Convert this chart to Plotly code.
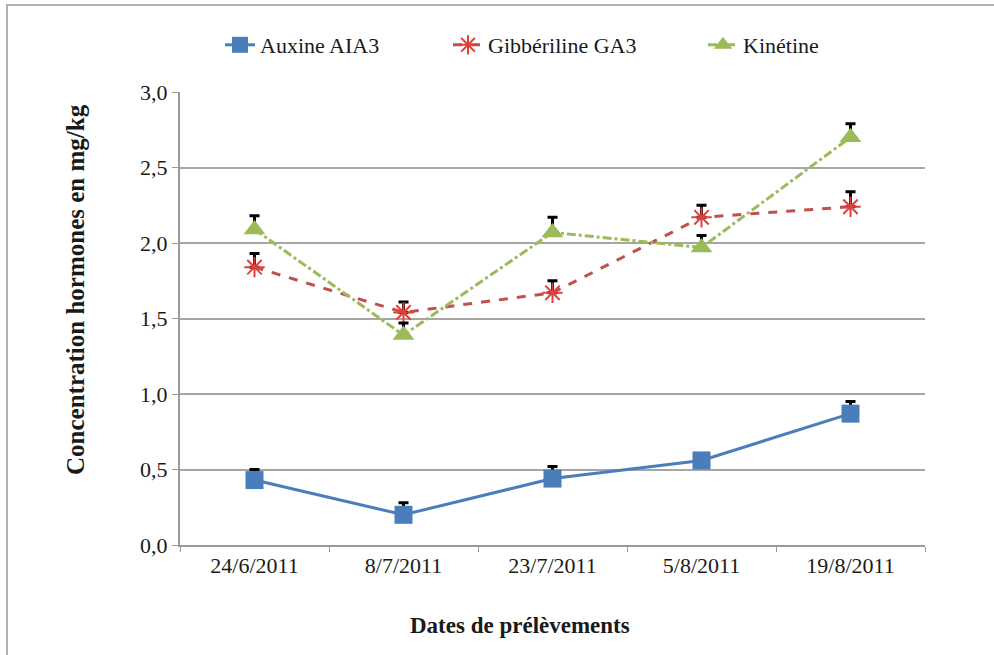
import plotly.graph_objects as go

# Sampling dates (categories)
dates = ["24/6/2011", "8/7/2011", "23/7/2011", "5/8/2011", "19/8/2011"]

# Hormone concentrations (mg/kg) and upper error values
auxine = [0.43, 0.20, 0.44, 0.56, 0.87]
auxine_err = [0.07, 0.08, 0.08, 0.03, 0.08]

gibberelline = [1.84, 1.54, 1.67, 2.17, 2.24]
gibberelline_err = [0.09, 0.07, 0.08, 0.08, 0.10]

kinetine = [2.09, 1.39, 2.07, 1.97, 2.70]
kinetine_err = [0.09, 0.08, 0.10, 0.08, 0.09]

y_ticks = [0.0, 0.5, 1.0, 1.5, 2.0, 2.5, 3.0]
y_ticktext = ["0,0", "0,5", "1,0", "1,5", "2,0", "2,5", "3,0"]

SERIF = "Liberation Serif"
INK = "#1a1a1a"


def err(vals):
    return dict(type="data", symmetric=False, array=vals, arrayminus=[0] * len(vals),
                color="black", thickness=3, width=5)


fig = go.Figure()

fig.add_trace(go.Scatter(
    x=dates, y=auxine, name="Auxine AIA3", mode="lines+markers",
    line=dict(color="#4a7ebb", width=3),
    marker=dict(symbol="square", size=18, color="#4a7ebb"),
    error_y=err(auxine_err), legend="legend",
))
fig.add_trace(go.Scatter(
    x=dates, y=gibberelline, name="Gibbériline GA3", mode="lines+markers",
    line=dict(color="#c0504d", width=3, dash="dash"),
    marker=dict(symbol="asterisk-open", size=17, color="#e0403c",
                line=dict(color="#e0403c", width=2)),
    error_y=err(gibberelline_err), legend="legend2",
))
fig.add_trace(go.Scatter(
    x=dates, y=kinetine, name="Kinétine", mode="lines+markers",
    line=dict(color="#9bbb59", width=3, dash="dashdot"),
    marker=dict(symbol="triangle-up", size=19, color="#9bbb59"),
    error_y=err(kinetine_err), legend="legend3",
))


def legend_at(px):
    # one legend per series so each entry sits at its own horizontal spot
    return dict(orientation="h", x=(px - 180) / 745, y=(545 - 45) / 453,
                xanchor="left", yanchor="middle", bgcolor="rgba(0,0,0,0)",
                font=dict(family=SERIF, size=22, color=INK))


fig.update_layout(
    width=994, height=655,
    margin=dict(l=180, r=69, t=92, b=110),
    paper_bgcolor="white", plot_bgcolor="white",
    font=dict(family=SERIF, size=22, color=INK),
    showlegend=True,
    legend=legend_at(220),
    legend2=legend_at(448),
    legend3=legend_at(703),
    xaxis=dict(
        type="category", showgrid=False, showline=True, linecolor="#9a9a9a", linewidth=2,
        ticks="outside", ticklen=5, tickcolor="#9a9a9a", tickson="boundaries",
        tickfont=dict(family=SERIF, size=22, color=INK),
        range=[-0.5, 4.5], fixedrange=True,
    ),
    yaxis=dict(
        range=[0, 3.0], tickvals=y_ticks, ticktext=y_ticktext,
        showgrid=True, gridcolor="#a6a6a6", gridwidth=2,
        showline=True, linecolor="#9a9a9a", linewidth=2,
        ticks="outside", ticklen=6, tickcolor="#9a9a9a",
        tickfont=dict(family=SERIF, size=22, color=INK),
        zeroline=False,
    ),
    annotations=[
        dict(text="<b>Dates de prélèvements</b>", xref="paper", yref="paper",
             x=(520 - 180) / 745, y=(545 - 625) / 453, xanchor="center", yanchor="middle",
             showarrow=False, font=dict(family=SERIF, size=23, color=INK)),
        dict(text="<b>Concentration hormones en mg/kg</b>", xref="paper", yref="paper",
             x=(75 - 180) / 745, y=(545 - 290) / 453, xanchor="center", yanchor="middle",
             textangle=-90, showarrow=False,
             font=dict(family=SERIF, size=25, color=INK)),
    ],
    shapes=[
        dict(type="rect", xref="paper", yref="paper",
             x0=(7 - 180) / 745, x1=(1010 - 180) / 745,
             y0=(545 - 670) / 453, y1=(545 - 5) / 453,
             line=dict(color="#b0b0b0", width=2), layer="below"),
    ],
)

fig.write_html("out.html")
